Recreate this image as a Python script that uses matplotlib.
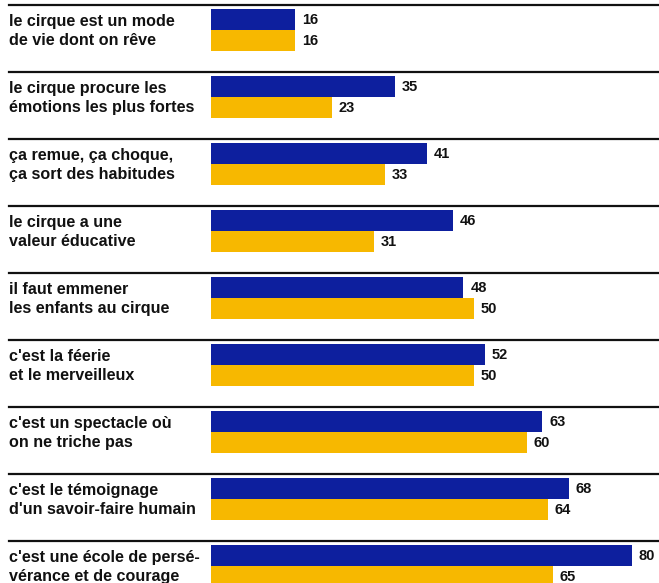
import matplotlib.pyplot as plt
import numpy as np

categories = [
    "le cirque est un mode\nde vie dont on rêve",
    "le cirque procure les\némotions les plus fortes",
    "ça remue, ça choque,\nça sort des habitudes",
    "le cirque a une\nvaleur éducative",
    "il faut emmener\nles enfants au cirque",
    "c'est la féerie\net le merveilleux",
    "c'est un spectacle où\non ne triche pas",
    "c'est le témoignage\nd'un savoir-faire humain",
    "c'est une école de persé-\nvérance et de courage",
]
serie_bleue = [16, 35, 41, 46, 48, 52, 63, 68, 80]
serie_jaune = [16, 23, 33, 31, 50, 50, 60, 64, 65]

bleu = "#0d1f9e"
jaune = "#f7b800"

plt.rcParams['font.family'] = ['Liberation Sans', 'DejaVu Sans']

W, H = 659, 583
fig = plt.figure(figsize=(W / 100, H / 100), dpi=100)
ax = fig.add_axes([0, 0, 1, 1])

# 0 de l'axe à 211 px, 5.26 px par point
px = 5.26
x0 = 211
ax.set_xlim(-x0 / px, (W - x0) / px)
# une unité = un groupe (67 px)
gh = 67.0
ax.set_ylim((H - 5) / gh, -5 / gh)
ax.axis('off')

pos = np.arange(len(categories))
h = 0.315
ax.barh(pos + 0.06 + h / 2, serie_bleue, height=h, color=bleu, linewidth=0)
ax.barh(pos + 0.06 + 1.5 * h, serie_jaune, height=h, color=jaune, linewidth=0)

for i, (b, j) in enumerate(zip(serie_bleue, serie_jaune)):
    ax.axhline(i, xmin=9 / W, xmax=1, color='#111111', linewidth=1.6)
    ax.text(b + 7 / px, i + 0.06 + h / 2, str(b), va='center', ha='left',
            fontsize=10.5, fontweight='bold', color='#111111')
    ax.text(j + 7 / px, i + 0.06 + 1.5 * h, str(j), va='center', ha='left',
            fontsize=10.5, fontweight='bold', color='#111111')
    ax.text(9 / W, i + 0.06 + h + 0.01, categories[i], transform=ax.get_yaxis_transform(),
            va='center', ha='left', fontsize=11.6, fontweight='bold',
            color='#111111', linespacing=1.3)

fig.savefig("out.png", dpi=100)
